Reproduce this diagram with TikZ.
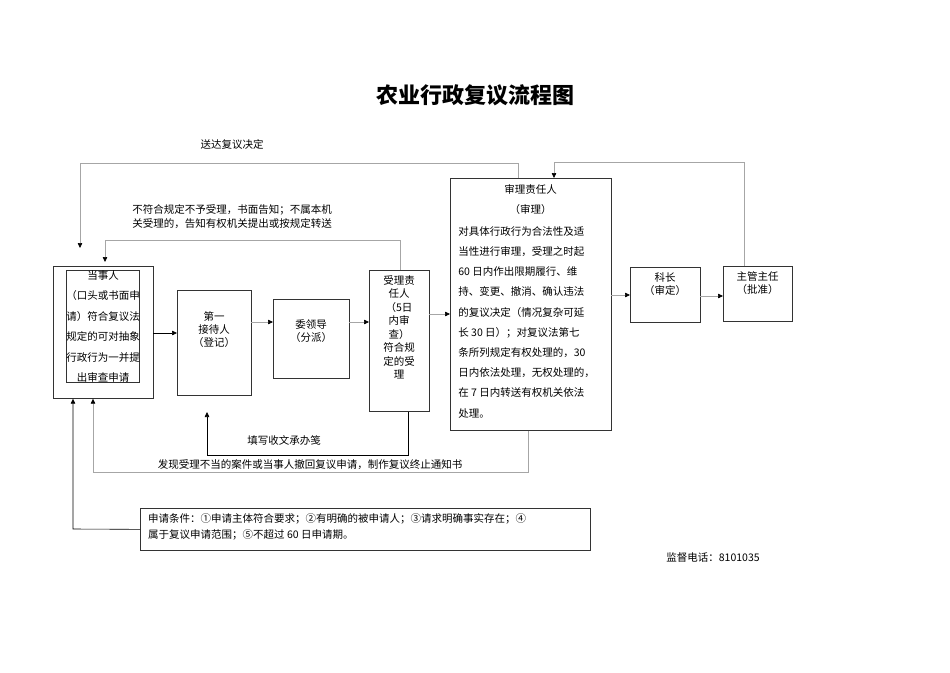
\documentclass[tikz,border=0pt]{standalone}
\usepackage{fontspec}
\setmainfont{Noto Sans CJK SC}
\usetikzlibrary{arrows.meta}
\begin{document}
\begin{tikzpicture}[x=1pt,y=-1pt,
  box/.style={draw=black!80,line width=0.7pt,inner sep=0pt,font=\fontsize{10.5}{19.5}\selectfont,align=center},
  con/.style={line width=0.6pt,-{Triangle[length=5pt,width=4.5pt]}},
  gcon/.style={draw=black!35,line width=0.6pt,-{Triangle[length=5pt,width=4.5pt,fill=black,color=black]}},
  lab/.style={font=\fontsize{10.5}{14}\selectfont,align=left,inner sep=0pt}]
\useasboundingbox (0,0) rectangle (950,672);
\node[font=\fontsize{22}{26}\selectfont\bfseries] (title) at (475,95) {农业行政复议流程图};
\node[lab] (l1) at (232,145) {送达复议决定};
\node[box,minimum width=100pt,minimum height=132pt,anchor=north west] (dsr) at (53,266) {};
\node[box,anchor=north,font=\fontsize{10.5}{20.5}\selectfont] (dsrt) at (103,270) {当事人\\（口头或书面申\\请）符合复议法\\规定的可对抽象\\行政行为一并提\\出审查申请};
\node[box,minimum width=74pt,minimum height=105pt,anchor=north west] (jd) at (177,290) {};
\node[box,draw=none,font=\fontsize{10.5}{13}\selectfont] at (214,330) {第一\\接待人\\（登记）};
\node[box,minimum width=76pt,minimum height=79pt,anchor=north west] (wld) at (273,299) {};
\node[box,draw=none,font=\fontsize{10.5}{13}\selectfont] at (311,331) {委领导\\（分派）};
\node[box,minimum width=60pt,minimum height=141pt,anchor=north west] (sl) at (369,270) {};
\node[box,draw=none,anchor=north,font=\fontsize{10.5}{13.5}\selectfont] at (399,275) {受理责\\任人\\（5日\\内审\\查）\\符合规\\定的受\\理};
\node[box,minimum width=161pt,minimum height=252pt,anchor=north west] (shl) at (450,178) {};
\node[box,draw=none,anchor=north,font=\fontsize{10.5}{20.2}\selectfont] at (530.5,184) {审理责任人\\（审理）};
\node[box,draw=none,anchor=north west,align=left,font=\fontsize{10.5}{20.2}\selectfont] at (458,226) {对具体行政行为合法性及适\\当性进行审理，受理之时起\\60 日内作出限期履行、维\\持、变更、撤消、确认违法\\的复议决定（情况复杂可延\\长 30 日）；对复议法第七\\条所列规定有权处理的，30\\日内依法处理，无权处理的，\\在 7 日内转送有权机关依法\\处理。};
\node[box,minimum width=70pt,minimum height=55pt,anchor=north west] (kz) at (630,267) {};
\node[box,draw=none,anchor=north,font=\fontsize{10.5}{13}\selectfont] at (665,272) {科长\\（审定）};
\node[box,minimum width=69pt,minimum height=55pt,anchor=north west] (zg) at (723,266) {};
\node[box,draw=none,anchor=north,font=\fontsize{10.5}{13}\selectfont] at (757.5,271) {主管主任\\（批准）};
\node[box,minimum width=450pt,minimum height=42pt,anchor=north west] (sq) at (140,508) {};
\node[lab,anchor=north west,font=\fontsize{10.5}{16}\selectfont] at (148,513) {申请条件：①申请主体符合要求；②有明确的被申请人；③请求明确事实存在；④\\属于复议申请范围；⑤不超过 60 日申请期。};
\node[lab,align=left] (l2) at (232,217) {不符合规定不予受理，书面告知；不属本机\\关受理的，告知有权机关提出或按规定转送};
\node[lab] (l3) at (284,440) {填写收文承办笺};
\node[lab] (l4) at (310,465) {发现受理不当的案件或当事人撤回复议申请，制作复议终止通知书};
\node[lab] (l5) at (713,557) {监督电话：8101035};
% horizontal flow
\draw[con] (153,333) -- (jd.west |- 0,333);
\draw[gcon] (251,322) -- (wld.west |- 0,322);
\draw[gcon] (349,322) -- (sl.west |- 0,322);
\draw[gcon] (429,314) -- (shl.west |- 0,314);
\draw[gcon] (611,295) -- (kz.west |- 0,295);
\draw[gcon] (700,296) -- (zg.west |- 0,296);
% top loops
\draw[gcon] (shl.north -| 518,0) -- (518,163) -- (80,163) -- (80,248);
\draw[gcon] (sl.north -| 400,0) -- (400,240) -- (105,240) -- (105,262);
\draw[gcon] (zg.north -| 744,0) -- (744,162) -- (554,162) -- (shl.north -| 554,0);
% bottom loops
\draw[con] (sl.south -| 408,0) -- (408,455) -- (207,455) -- (207,412);
\draw[gcon] (shl.south -| 528,0) -- (528,472) -- (93,472) -- (dsr.south -| 93,0);
\draw[con] (sq.west) -- (73,529) -- (dsr.south -| 73,0);
\end{tikzpicture}
\end{document}
